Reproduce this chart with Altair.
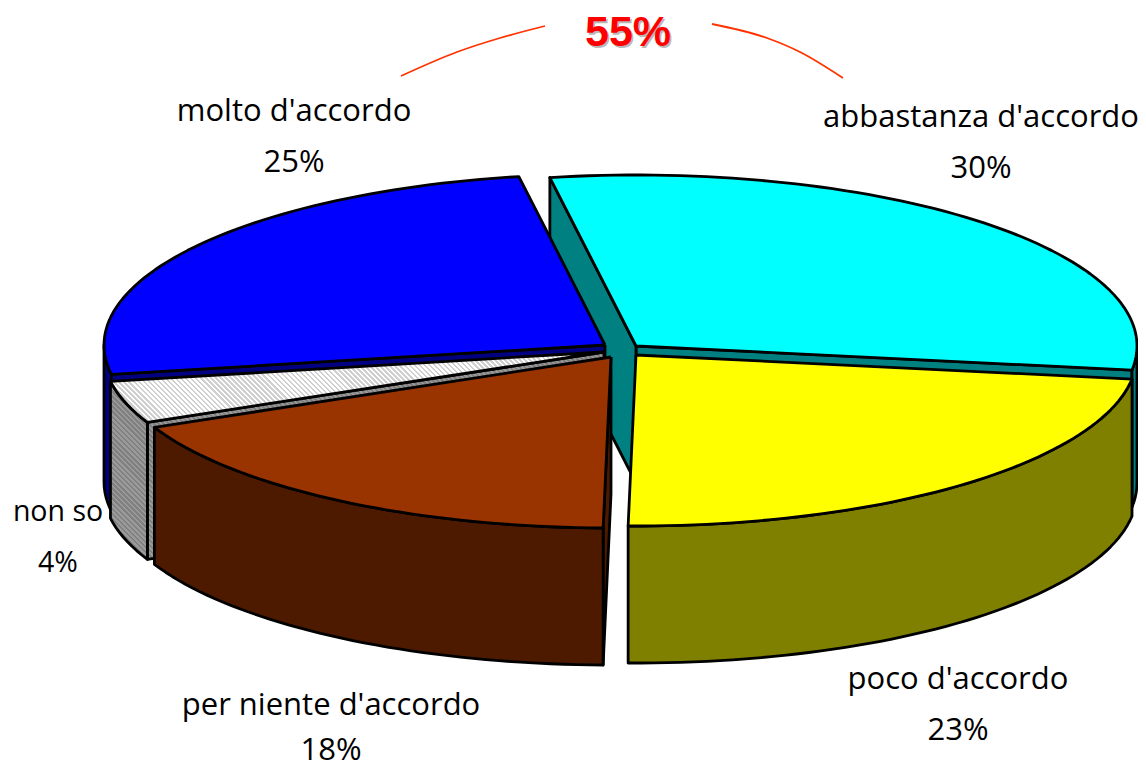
import math
import altair as alt
import pandas as pd

# ---- data ----
categories = ["abbastanza d'accordo", "poco d'accordo", "per niente d'accordo", "non so", "molto d'accordo"]
shares = [30, 23, 18, 4, 25]
total_label = "55%"

# ---- styling / layout ----
top_colors = ["#00ffff", "#ffff00", "#993300", "HATCH_TOP", "#0000ff"]
side_colors = ["#008080", "#808000", "#4d1a00", "HATCH_SIDE", "#000080"]
draw_order = [0, 4, 3, 2, 1]
# explosion of each slice, in page pixels
apex_px = [(636, 346), (636, 355), (611, 357), (604, 352), (605, 345)]
label_px = [(981, 118, 169), (958, 680, 731), (331, 706, 751), (58, 512, 563), (294, 112, 163)]
label_font_size = [31, 31, 31, 28.5, 31]
START_ANGLE = -9.9
RX, RY, DEPTH = 501, 171, 137
W, H = 1130, 759
MARGIN = 8
OX, OY = 620, 350  # page position of the pie origin
FONT = "Open Sans"

x_scale = alt.Scale(domain=[(MARGIN - OX) / RX, (MARGIN + W - OX) / RX], nice=False, zero=False)
y_scale = alt.Scale(domain=[(MARGIN + H - OY) / RY, (MARGIN - OY) / RY], nice=False, zero=False)
X = alt.X("x:Q", scale=x_scale, axis=None)
Y = alt.Y("y:Q", scale=y_scale, axis=None)


def to_unit(px, py):
    return (px - OX) / RX, (py - OY) / RY


def hatch(a, b, w, h, period=5.0):
    """Hard-stopped linear gradient giving a 45 degree hatch in a w x h box."""
    r = h / w
    k = (1 + r) / (1 + r * r)
    n = int((w + h) / period)
    stops = []
    for i in range(n):
        stops += [
            {"offset": i / n, "color": a},
            {"offset": (i + 0.5) / n, "color": a},
            {"offset": (i + 0.5) / n, "color": b},
            {"offset": (i + 1) / n, "color": b},
        ]
    return {"gradient": "linear", "x1": 0, "y1": 1, "x2": k, "y2": 1 - k * r, "stops": stops}


def resolve(fill, pts):
    if not fill.startswith("HATCH"):
        return fill
    xs = [p[0] * RX for p in pts]
    ys = [p[1] * RY for p in pts]
    w, h = max(xs) - min(xs), max(ys) - min(ys)
    if fill == "HATCH_TOP":
        return hatch("#ffffff", "#d0d0d0", w, h)
    return hatch("#808080", "#9a9a9a", w, h)


def polygon(pts, fill):
    closed = pts + [pts[0]]
    df = pd.DataFrame({"x": [p[0] for p in closed], "y": [p[1] for p in closed], "i": range(len(closed))})
    return (
        alt.Chart(df)
        .mark_line(fill=resolve(fill, pts), stroke="black", strokeWidth=2.8, strokeJoin="round", clip=False)
        .encode(x=X, y=Y, order="i:Q")
    )


def arc_points(cx, cy, t0, t1):
    n = max(2, int((t1 - t0) / 1.5))
    pts = []
    for j in range(n + 1):
        t = math.radians(t0 + (t1 - t0) * j / n)
        pts.append((cx + math.sin(t), cy - math.cos(t)))
    return pts


layers = []
edges = []
a = START_ANGLE
for s in shares:
    edges.append((a, a + s * 3.6))
    a += s * 3.6

for idx in draw_order:
    t0, t1 = edges[idx]
    cx, cy = to_unit(*apex_px[idx])
    d = DEPTH / RY
    arc = arc_points(cx, cy, t0, t1)
    down = lambda p: (p[0], p[1] + d)
    apex = (cx, cy)
    side = side_colors[idx]
    # only the cut faces that look towards the viewer
    if math.sin(math.radians(t1)) > 0:
        layers.append(polygon([apex, arc[-1], down(arc[-1]), down(apex)], side))
    if math.sin(math.radians(t0)) < 0:
        layers.append(polygon([apex, arc[0], down(arc[0]), down(apex)], side))
    # outer rim: only the front half of the ellipse
    r0, r1 = max(t0, 90), min(t1, 270)
    if r1 > r0:
        rim = arc_points(cx, cy, r0, r1)
        layers.append(polygon(rim + [down(p) for p in reversed(rim)], side))
    layers.append(polygon([apex] + arc, top_colors[idx]))

# bracket arcs above the two biggest agreeing slices
bracket_left = [(401, 76), (457, 52), (500, 38), (545, 26)]
bracket_right = [(712, 24), (767, 38), (800, 52), (843, 78)]
for br in (bracket_left, bracket_right):
    u = [to_unit(*p) for p in br]
    df = pd.DataFrame({"x": [p[0] for p in u], "y": [p[1] for p in u], "i": range(len(u))})
    layers.append(
        alt.Chart(df).mark_line(color="#ff3300", strokeWidth=1.8, interpolate="monotone").encode(x=X, y=Y, order="i:Q")
    )

# labels
for c, s, (lx, y1, y2), fs in zip(categories, shares, label_px, label_font_size):
    rows = []
    ux, uy = to_unit(lx, y1)
    rows.append({"x": ux, "y": uy, "t": c})
    ux, uy = to_unit(lx, y2)
    rows.append({"x": ux, "y": uy, "t": f"{s}%"})
    layers.append(
        alt.Chart(pd.DataFrame(rows))
        .mark_text(font=FONT, fontSize=fs, color="black", align="center", baseline="middle")
        .encode(x=X, y=Y, text="t:N")
    )

# 55% with its shadow
for off, col in ((1.5, "#b8b8b8"), (0, "#ff0000")):
    ux, uy = to_unit(628 + off, 33 + off)
    layers.append(
        alt.Chart(pd.DataFrame({"x": [ux], "y": [uy], "t": [total_label]}))
        .mark_text(font="Liberation Sans", fontWeight="bold", fontSize=43, color=col, align="center", baseline="middle")
        .encode(x=X, y=Y, text="t:N")
    )

chart = (
    alt.layer(*layers)
    .properties(width=W, height=H, padding=0, background="white", autosize=alt.AutoSizeParams(type="none"))
    .configure_view(stroke=None)
)
chart.save("out.html", embed_options={"renderer": "svg", "actions": False})
